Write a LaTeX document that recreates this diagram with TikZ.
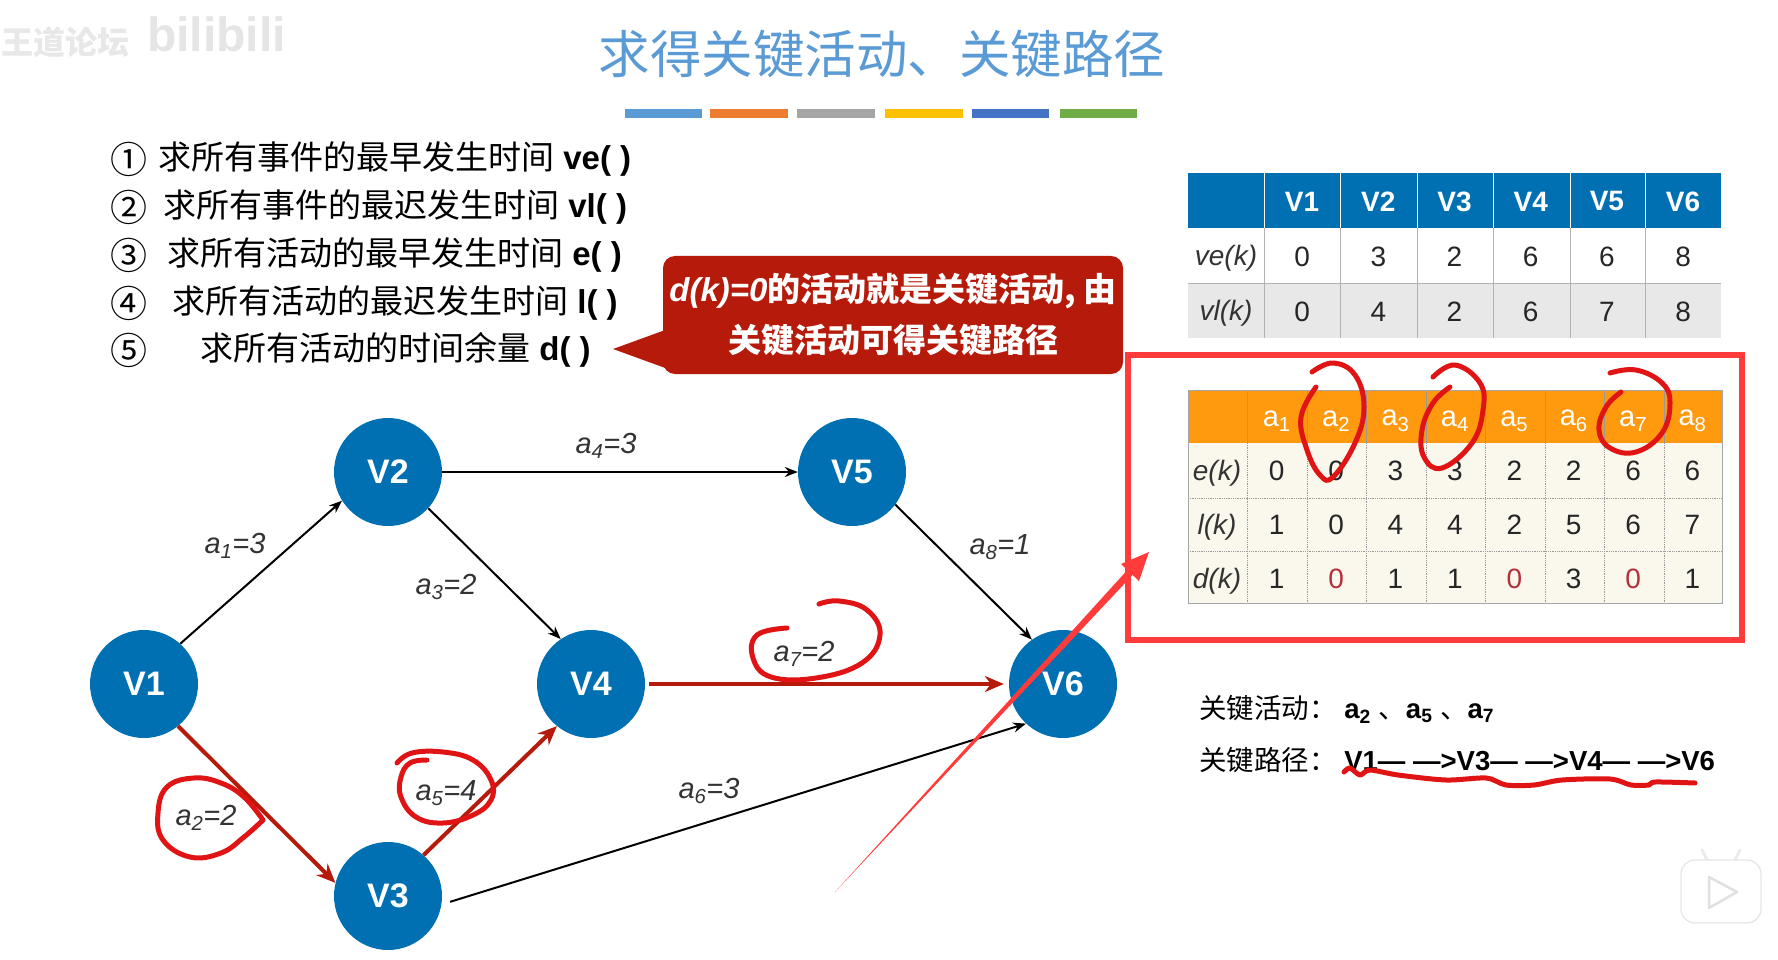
\documentclass[tikz,border=0pt]{standalone}
\usepackage{fontspec}
\setmainfont{Liberation Sans}
\newfontfamily\cjk{Noto Sans CJK SC}
\usetikzlibrary{arrows.meta,positioning}

\definecolor{nodeblue}{HTML}{0070B2}
\definecolor{titleblue}{HTML}{5B9BD5}
\definecolor{pathred}{HTML}{B51A0A}
\definecolor{inkred}{HTML}{E01414}
\definecolor{markred}{HTML}{FF3B3B}
\definecolor{headorange}{HTML}{FF9A0F}
\definecolor{cellcream}{HTML}{FAF7EC}
\definecolor{zerored}{HTML}{B5303A}
\definecolor{bar1}{HTML}{5B9BD5}
\definecolor{bar2}{HTML}{ED7D31}
\definecolor{bar3}{HTML}{A5A5A5}
\definecolor{bar4}{HTML}{FFC000}
\definecolor{bar5}{HTML}{4472C4}
\definecolor{bar6}{HTML}{70AD47}

\newcommand{\fsize}[1]{\fontsize{#1}{#1}\selectfont}

\tikzset{
  main node/.style={circle,fill=nodeblue,text=white,inner sep=0pt,minimum size=108pt,font=\fsize{34}\bfseries},
  edge label/.style={inner sep=0pt,text=black!80,font=\fsize{29}\itshape},
  step text/.style={anchor=west,inner sep=0pt,font=\fsize{33}},
  step mark/.style={inner sep=0pt,font=\fsize{37}\cjk},
  cell/.style={inner sep=0pt,text=black!85,font=\fsize{28}},
  row head/.style={inner sep=0pt,text=black!80,font=\fsize{28}\itshape},
  blue head/.style={inner sep=0pt,text=white,font=\fsize{28}\bfseries},
  orange head/.style={inner sep=0pt,text=white,font=\fsize{29}},
  key line/.style={anchor=west,inner sep=0pt,font=\fsize{27.5}\bfseries},
  crit/.style={pathred,line width=4pt,>={Stealth[length=19pt,width=16pt]}},
  plain/.style={black,line width=2pt,>={Stealth[length=13pt,width=10pt]}},
  ink/.style={inkred,line width=5pt,line cap=round,line join=round}
}

\begin{document}
\begin{tikzpicture}[x=1pt,y=-1pt]
  \useasboundingbox[fill=white] (0,0) rectangle (1778,960);

  % watermark
  \node[inner sep=0pt,anchor=west,text=black!9,font=\fsize{32}\cjk\bfseries] (wm1) at (1,42) {王道论坛};
  \node[inner sep=0pt,anchor=west,text=black!10,font=\fsize{48}\bfseries] (wm2) at (147,34) {bilibili};

  % title
  \node[inner sep=0pt,text=titleblue,font=\fsize{51.5}\cjk] (title) at (882,54) {求得关键活动、关键路径};
  \foreach \xa/\xb [count=\i] in {625/702,710/788,797/875,885/963,972/1049,1060/1137}
    \fill[bar\i] (\xa,109) rectangle (\xb,118);

  % steps
  \foreach \y/\m [count=\i] in {159/①,207/②,255/③,303/④,350/⑤}
    \node[step mark] (m\i) at (129,\y) {\m};
  \node[step text] (s1) at (158,159) {{\cjk 求所有事件的最早发生时间} \textbf{ve( )}};
  \node[step text] (s2) at (163,207) {{\cjk 求所有事件的最迟发生时间} \textbf{vl( )}};
  \node[step text] (s3) at (167,255) {{\cjk 求所有活动的最早发生时间} \textbf{e( )}};
  \node[step text] (s4) at (172,303) {{\cjk 求所有活动的最迟发生时间} \textbf{l( )}};
  \node[step text] (s5) at (200,350) {{\cjk 求所有活动的时间余量} \textbf{d( )}};

  % callout
  \node[fill=pathred,rounded corners=12pt,minimum width=460pt,minimum height=118pt,inner sep=0pt,text=white,align=center,font=\fsize{33}\bfseries] (hint) at (893,315)
    {\textit{d(k)=0}{\cjk 的活动就是关键活动, 由}\\[14pt]{\cjk 关键活动可得关键路径}};
  \fill[pathred] (613,349) -- (668,329) -- (668,369) -- cycle;

  % graph
  \node[main node] (v1) at (144,684) {V1};
  \node[main node] (v2) at (388,472) {V2};
  \node[main node] (v3) at (388,896) {V3};
  \node[main node] (v4) at (591,684) {V4};
  \node[main node] (v5) at (852,472) {V5};
  \node[main node] (v6) at (1063,684) {V6};

  \path[plain,->]
  (v1.48) edge (v2.212)
  (v2) edge (v5)
  (v2.-42) edge (v4.124)
  (v5.-37) edge (v6.125)
  (v3.-9) edge[shorten <=9pt] (v6.227);

  \path[crit,->]
  (v1.-51) edge (v3.166)
  (v3.49) edge (v4.231)
  (v4) edge[shorten <=4pt,shorten >=5pt] (v6);

  \node[edge label] (a1) at (235,546) {a\textsubscript{1}=3};
  \node[edge label] (a2) at (206,818) {a\textsubscript{2}=2};
  \node[edge label] (a3) at (446,587) {a\textsubscript{3}=2};
  \node[edge label] (a4) at (606,446) {a\textsubscript{4}=3};
  \node[edge label] (a5) at (446,793) {a\textsubscript{5}=4};
  \node[edge label] (a6) at (709,791) {a\textsubscript{6}=3};
  \node[edge label] (a7) at (804,654) {a\textsubscript{7}=2};
  \node[edge label] (a8) at (1000,547) {a\textsubscript{8}=1};

  % event table
  \fill[nodeblue] (1188,173) rectangle (1721,228);
  \fill[black!9] (1188,283) rectangle (1721,338);
  \foreach \x in {1264,1340,1417,1493,1570,1645}{
    \draw[white,line width=1pt] (\x,173) -- (\x,228);
    \draw[black!30,line width=.6pt] (\x,228) -- (\x,338);
  }
  \draw[black!30,line width=.6pt] (1188,283) -- (1721,283);
  \node[row head] (vek) at (1226,258.5) {ve(k)};
  \node[row head] (vlk) at (1226,313) {vl(k)};
  \foreach \ve/\vl [count=\i] in {0/0,3/4,2/2,6/6,6/7,8/8}{
    \node[blue head] (h\i) at ({1264+76.2*(\i-.5)},201.5) {V\i};
    \node[cell] (ve\i) at ({1264+76.2*(\i-.5)},256.5) {\ve};
    \node[cell] (vl\i) at ({1264+76.2*(\i-.5)},311.5) {\vl};
  }

  % activity table
  \draw[markred,line width=5.5pt] (1128,355) rectangle (1742,640);
  \fill[cellcream] (1188,443) rectangle (1722,603);
  \fill[headorange] (1188,390) rectangle (1722,443);
  \foreach \y in {498,551}
    \draw[black!40,line width=.8pt,densely dotted] (1188,\y) -- (1722,\y);
  \foreach \x in {1247,1307,1366,1426,1485,1545,1604,1664}{
    \draw[black!40,line width=.8pt] (\x,390) -- (\x,443);
    \draw[black!40,line width=.8pt,densely dotted] (\x,443) -- (\x,603);
  }
  \draw[black!35,line width=.8pt] (1188,390) rectangle (1722,603);
  \node[row head] (ek) at (1217,473) {e(k)};
  \node[row head] (lk) at (1217,527) {l(k)};
  \node[row head] (dk) at (1217,581) {d(k)};
  \foreach \e/\l/\d [count=\i] in {0/1/1,0/0/0,3/4/1,3/4/1,2/2/0,2/5/3,6/6/0,6/7/1}{
    \node[orange head] (o\i) at ({1247+59.4*(\i-.5)},421) {a\textsubscript{\i}};
    \node[cell] (e\i) at ({1247+59.4*(\i-.5)},471) {\e};
    \node[cell] (l\i) at ({1247+59.4*(\i-.5)},525) {\l};
    \ifnum\d=0
      \node[cell,text=zerored] (d\i) at ({1247+59.4*(\i-.5)},579) {\d};
    \else
      \node[cell] (d\i) at ({1247+59.4*(\i-.5)},579) {\d};
    \fi
  }

  % key results
  \node[key line] (k1) at (1199,709) {{\cjk\mdseries 关键活动：} a\textsubscript{2} {\cjk\mdseries 、}a\textsubscript{5} {\cjk\mdseries 、}a\textsubscript{7}};
  \node[key line] (k2) at (1199,760) {{\cjk\mdseries 关键路径：} V1— —>V3— —>V4— —>V6};

  % big pointer
  \coordinate (ptail) at (835,892);
  \coordinate (ptip) at (1149,552);
  \fill[markred] (ptail) -- (1127.4,570) -- (1121,564) -- (ptip) -- (1139,581) -- (1132.6,575) -- cycle;

  % pen strokes
  \draw[ink] plot[smooth,tension=.7] coordinates {(1312,372) (1333,363) (1355,375) (1364,407) (1355,443) (1333,477) (1320,475) (1307,450) (1301,417) (1316,387)};
  \draw[ink] plot[smooth,tension=.7] coordinates {(1433,377) (1455,365) (1480,383) (1483,410) (1472,443) (1442,468) (1424,457) (1422,430) (1433,403) (1450,387)};
  \draw[ink] plot[smooth,tension=.7] coordinates {(1610,373) (1636,370) (1662,383) (1670,403) (1662,433) (1636,452) (1610,448) (1599,430) (1606,407) (1621,392)};
  \draw[ink] plot[smooth,tension=.7] coordinates {(263,820) (244,797) (221,783) (194,778) (167,787) (158,813) (163,840) (190,857) (221,853) (244,837) (263,820)};
  \draw[ink] plot[smooth,tension=.7] coordinates {(397,763) (412,753) (443,752) (473,760) (491,780) (491,800) (473,815) (443,823) (416,817) (401,797) (401,777) (410,763) (427,760)};
  \draw[ink] plot[smooth,tension=.7] coordinates {(787,628) (757,635) (753,658) (771,677) (816,678) (862,663) (880,635) (867,610) (839,601) (819,604)};
  \draw[ink] plot[smooth,tension=.5] coordinates {(1344,772) (1350,768) (1360,775) (1370,770) (1398,775) (1446,780) (1486,778) (1506,785) (1534,785) (1562,780) (1610,779) (1631,785) (1649,785) (1655,782) (1695,783)};

  % player badge
  \draw[black!8,line width=3pt,line cap=round] (1708,862) -- (1702,850) (1734,862) -- (1740,850);
  \draw[black!10,fill=white,line width=1.2pt,rounded corners=14pt] (1681,860) rectangle (1761,923);
  \draw[black!12,fill=white,line width=2.5pt,line join=round] (1709,877) -- (1737,892) -- (1709,908) -- cycle;
\end{tikzpicture}
\end{document}
